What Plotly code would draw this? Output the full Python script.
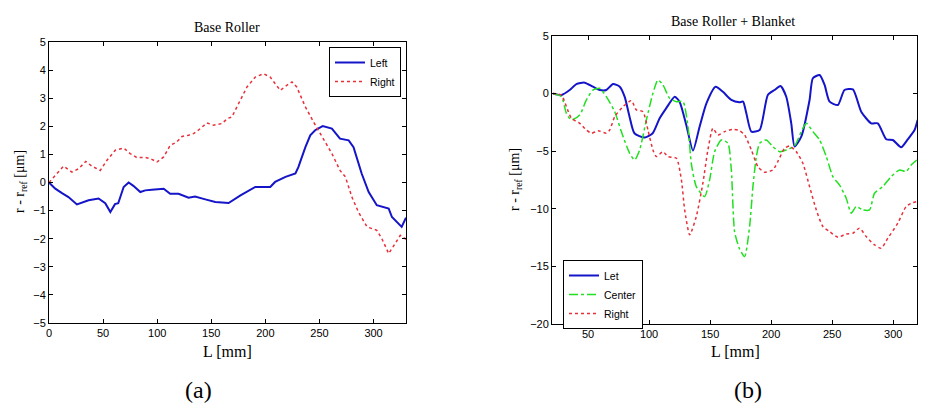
import plotly.graph_objects as go

# page is drawn with an 8px body margin, so the figure is sized to fit inside it
W, H = 917, 395
OFF = 8

# ---------------- (a) Base Roller ----------------
a_left_L = [0, 5.8, 12, 18, 25.8, 32, 36.6, 45.8, 52, 56.7, 61, 64, 69, 73.6, 78, 84.4, 89, 95,
            106, 112, 119.8, 129, 135, 144.5, 153.7, 166, 177, 190.7, 204.5, 209, 218.6, 227.8,
            230.5, 237, 241.5, 246, 253, 261.5, 269, 277, 281.5, 289, 295.5, 303, 314, 317, 326, 330]
a_left_v = [0, -0.22, -0.38, -0.52, -0.78, -0.7, -0.63, -0.57, -0.74, -1.05, -0.77, -0.74, -0.16, 0,
            -0.12, -0.34, -0.28, -0.26, -0.22, -0.4, -0.4, -0.54, -0.5, -0.6, -0.69, -0.73, -0.46,
            -0.16, -0.16, 0.02, 0.2, 0.32, 0.55, 1.26, 1.68, 1.86, 2.01, 1.92, 1.56, 1.5, 1.26, 0.32,
            -0.34, -0.81, -0.93, -1.23, -1.58, -1.25]

a_right_L = [0, 5.8, 13.5, 21.2, 27.4, 34, 39.7, 47.4, 53.6, 61.3, 69, 75, 81, 89, 93.6, 99.8, 106,
             112, 118, 123, 129, 133.6, 138, 146, 152, 160, 165, 169, 175, 183, 190.7, 198.3, 204.5,
             213.8, 218.4, 224.6, 229, 237, 244.6, 252, 261.5, 269, 274, 280, 286, 294, 303, 307.7,
             314, 320, 324.7, 330]
a_right_v = [0, 0.26, 0.58, 0.37, 0.49, 0.75, 0.58, 0.43, 0.79, 1.15, 1.23, 1.03, 0.89, 0.89, 0.85,
             0.73, 0.91, 1.32, 1.44, 1.64, 1.68, 1.74, 1.86, 2.12, 2.04, 2.1, 2.28, 2.33, 2.81, 3.4,
             3.75, 3.87, 3.75, 3.28, 3.42, 3.58, 3.4, 2.69, 2.15, 1.68, 1.03, 0.43, 0.2, -0.52, -1.05,
             -1.58, -1.7, -2.0, -2.53, -2.17, -1.88, -2.02]

# ---------------- (b) Base Roller + Blanket ----------------
b_left_L = [21.3, 28.2, 35, 40.5, 47.3, 54, 59.6, 65, 70.5, 76, 80, 84, 88, 96.4, 103, 108.7, 114,
            121, 125, 130.5, 136, 141.4, 147, 154.5, 160.5, 167.4, 174, 177, 179.7, 183.8, 190.6,
            197.3, 202.8, 207.7, 212.4, 216.5, 219.2, 224.7, 231.5, 234.2, 239.7, 243.8, 247.9,
            254.7, 260.1, 267, 273.8, 282, 287.4, 294.3, 299.7, 306.5, 312, 317.5, 320]
b_left_v = [0, -0.12, 0.31, 0.83, 0.95, 0.6, 0.31, 0.31, 0.83, 0.6, -0.27, -2.0, -3.44, -3.82, -3.44,
            -2.14, -1.28, -0.27, -0.7, -2.72, -4.95, -2.87, -0.84, 0.6, 0.16, -0.55, -0.75, -0.7,
            -1.71, -3.3, -3.16, -0.12, 0.31, 0.66, -0.27, -2.58, -4.6, -3.74, -0.55, 1.33, 1.61, 0.75,
            -0.7, -0.99, 0.31, 0.37, -1.57, -2.58, -2.58, -3.96, -4.03, -4.66, -3.96, -3.16, -2.29]

b_center_L = [21.3, 28.2, 32.3, 36.4, 43.2, 48.7, 54, 59.6, 65, 71.9, 77.3, 84.1, 88.2, 92.3, 97.8,
              103.2, 107.3, 111.4, 116.9, 122.4, 127.8, 131.9, 134.6, 138.7, 145.5, 149.6, 153.7,
              159.2, 164.6, 167.4, 170.1, 174.2, 178.3, 182.4, 185.1, 187.9, 190.6, 196, 201.4,
              206.9, 212.4, 219.2, 224.7, 228.8, 234.2, 239.7, 245.2, 250.6, 256, 261.5, 265.6,
              269.7, 275.1, 280.6, 284.7, 291.5, 298.4, 305.2, 310.6, 314.7, 319.3]
b_center_v = [0, -0.27, -1.71, -2.29, -1.86, -0.55, 0.31, 0.46, -0.27, -1.57, -3.3, -5.18, -5.76,
              -4.89, -2.29, 0.03, 1.18, 0.75, -0.41, -0.7, -0.7, -2.87, -6.05, -8.07, -8.94, -7.49,
              -5.04, -4.02, -4.31, -6.63, -12.0, -13.5, -14.15, -11.5, -8.07, -5.47, -4.31, -4.02,
              -4.6, -5.04, -4.89, -4.54, -3.3, -2.58, -3.3, -4.02, -5.47, -7.2, -7.93, -9.08, -10.38,
              -9.8, -10.1, -10.1, -8.65, -8.07, -7.2, -6.63, -6.77, -6.19, -5.76]

b_right_L = [21.3, 28.2, 32.3, 36.4, 43.2, 48.7, 52.8, 58.2, 65, 67.8, 71.9, 78.7, 85.5, 89.6, 95,
             99.1, 103.2, 106, 111.4, 115.5, 122.4, 126.5, 129.2, 133.3, 138.7, 144.1, 148.2, 152.3,
             156.4, 161.9, 168.7, 174.2, 178.3, 183.8, 189.2, 194.6, 201.4, 205.5, 211, 215.1,
             220.6, 226, 231.5, 237, 242.4, 247.9, 254.7, 261.5, 267, 272.4, 277.9, 284.7, 290.2,
             295.6, 303.8, 310.6, 316.1, 319.3]
b_right_v = [0, -0.12, -1.13, -2.14, -2.58, -3.16, -3.44, -3.22, -3.44, -3.16, -2.0, -1.13, -0.61,
             -1.42, -1.57, -3.16, -4.89, -5.47, -5.04, -5.47, -5.61, -7.49, -10.1, -12.26, -10.67,
             -7.78, -4.89, -3.01, -3.59, -3.3, -3.1, -3.22, -3.59, -4.89, -6.34, -6.83, -6.63, -5.9,
             -4.75, -4.54, -5.04, -6.05, -8.07, -10.1, -11.54, -11.98, -12.47, -12.18, -12.12,
             -11.69, -12.41, -13.13, -13.42, -12.55, -11.25, -9.8, -9.46, -9.37]

a_xticks = [0, 50, 100, 150, 200, 250, 300]
a_yticks = [-5, -4, -3, -2, -1, 0, 1, 2, 3, 4, 5]
b_xticks = [50, 100, 150, 200, 250, 300]
b_yticks = [-20, -15, -10, -5, 0, 5]

BLUE = "#1414c8"
RED = "#e8303a"
GREEN = "#20e020"

fig = go.Figure()
fig.add_trace(go.Scatter(x=a_left_L, y=a_left_v, mode="lines", name="Left",
                         line=dict(color=BLUE, width=2), xaxis="x", yaxis="y", legend="legend"))
fig.add_trace(go.Scatter(x=a_right_L, y=a_right_v, mode="lines", name="Right",
                         line=dict(color=RED, width=1.5, dash="dot"), xaxis="x", yaxis="y", legend="legend"))
fig.add_trace(go.Scatter(x=b_left_L, y=b_left_v, mode="lines", name="Let",
                         line=dict(color=BLUE, width=2, shape="spline", smoothing=0.6),
                         xaxis="x2", yaxis="y2", legend="legend2"))
fig.add_trace(go.Scatter(x=b_center_L, y=b_center_v, mode="lines", name="Center",
                         line=dict(color=GREEN, width=1.5, dash="dashdot", shape="spline", smoothing=0.6),
                         xaxis="x2", yaxis="y2", legend="legend2"))
fig.add_trace(go.Scatter(x=b_right_L, y=b_right_v, mode="lines", name="Right",
                         line=dict(color=RED, width=1.5, dash="dot", shape="spline", smoothing=0.6),
                         xaxis="x2", yaxis="y2", legend="legend2"))

tickfont = dict(family="Liberation Sans, Arial", size=11, color="black")
axis_common = dict(showline=True, linecolor="black", linewidth=1, mirror="allticks",
                   ticks="inside", ticklen=4, tickcolor="black", showgrid=False, zeroline=False,
                   tickfont=tickfont, automargin=False)

def px_x(p):
    return (p - OFF) / W

def px_y(p):
    return 1 - (p - OFF) / H

serif = "Liberation Serif, Times New Roman, serif"
legfont = dict(family="Liberation Sans, Arial", size=10.5, color="black")

fig.update_layout(
    width=W, height=H, margin=dict(l=0, r=0, t=0, b=0, autoexpand=False),
    paper_bgcolor="white", plot_bgcolor="white",
    xaxis=dict(domain=[px_x(49), px_x(406)], range=[0, 330], tickvals=a_xticks, anchor="y", **axis_common),
    yaxis=dict(domain=[px_y(323), px_y(42)], range=[-5, 5], tickvals=a_yticks, anchor="x", **axis_common),
    xaxis2=dict(domain=[px_x(552), px_x(917)], range=[20.5, 319.5], tickvals=b_xticks, anchor="y2", **axis_common),
    yaxis2=dict(domain=[px_y(324), px_y(36)], range=[-20, 5], tickvals=b_yticks, anchor="x2", **axis_common),
    legend=dict(x=px_x(329), y=px_y(47), xanchor="left", yanchor="top",
                bordercolor="black", borderwidth=1, bgcolor="white", font=legfont,
                tracegroupgap=0, itemwidth=30),
    legend2=dict(x=px_x(563), y=px_y(260), xanchor="left", yanchor="top",
                 bordercolor="black", borderwidth=1, bgcolor="white", font=legfont,
                 tracegroupgap=0, itemwidth=30),
    showlegend=True,
)

ann = [
    dict(text="Base Roller", x=px_x(227), y=px_y(27), size=14),
    dict(text="Base Roller + Blanket", x=px_x(733), y=px_y(22), size=14),
    dict(text="L [mm]", x=px_x(227), y=px_y(351), size=16),
    dict(text="L [mm]", x=px_x(735), y=px_y(351), size=16),
    dict(text="(a)", x=px_x(198), y=px_y(390), size=24),
    dict(text="(b)", x=px_x(748), y=px_y(390), size=24),
]
for a in ann:
    fig.add_annotation(text=a["text"], x=a["x"], y=a["y"], xref="paper", yref="paper",
                       xanchor="center", yanchor="middle", showarrow=False,
                       font=dict(family=serif, size=a["size"], color="black"))

for xp, yp in [(20, 182), (515, 180)]:
    fig.add_annotation(text="r - r<sub>ref</sub> [μm]", x=px_x(xp), y=px_y(yp), xref="paper", yref="paper",
                       xanchor="center", yanchor="middle", showarrow=False, textangle=-90,
                       font=dict(family=serif, size=14, color="black"))

fig.write_html("out.html")
